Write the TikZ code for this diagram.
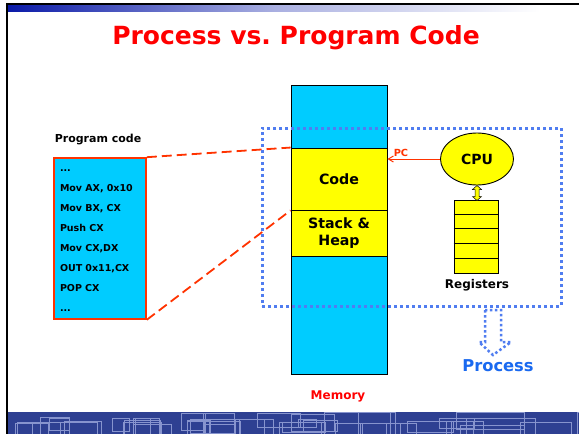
\documentclass[tikz,border=0pt]{standalone}
\usepackage{fontspec}
\setmainfont{DejaVu Sans}
\usetikzlibrary{shapes.geometric,arrows.meta}
\definecolor{memcyan}{HTML}{00CCFF}
\definecolor{boxyellow}{HTML}{FFFF00}
\definecolor{titlered}{HTML}{FF0000}
\definecolor{dashred}{HTML}{FF3300}
\definecolor{dotblue}{RGB}{80,125,240}
\definecolor{procblue}{RGB}{25,105,240}
\definecolor{bandblue}{RGB}{46,64,146}
\definecolor{bandline}{RGB}{135,148,206}
\definecolor{topblue}{RGB}{10,26,168}
\newcommand{\fsz}[1]{\fontsize{#1}{#1}\selectfont}
\tikzset{
  memblock/.style={draw=black, line width=0.9pt, fill=#1, inner sep=0pt, minimum width=96pt},
  lbl/.style={font=\bfseries, inner sep=0pt},
  reddash/.style={draw=dashred, line width=1.8pt, dash pattern=on 10pt off 5pt},
  bluedots/.style={draw=dotblue, line width=3pt, dash pattern=on 3pt off 3pt},
}
\begin{document}
\begin{tikzpicture}[x=1pt,y=-1pt]
\useasboundingbox (0,0) rectangle (579,434);
\fill[white] (0,0) rectangle (579,434);
% frame decoration
\shade[left color=topblue, right color=white, middle color=topblue!35] (8,5) rectangle (540,11);
\fill[black] (6,3) rectangle (579,5);
\fill[black] (6,3) rectangle (8,434);
% bottom band
\begin{scope}
\clip (8,412) rectangle (579,434);
\fill[bandblue] (8,412) rectangle (579,434);
\pgfmathsetseed{21}
\foreach \i in {0,...,40}{
  \pgfmathsetmacro\xa{8+rnd*571}
  \pgfmathsetmacro\wa{15+rnd*55}
  \pgfmathsetmacro\ya{412+rnd*14}
  \pgfmathsetmacro\ha{8+rnd*20}
  \draw[bandline, line width=0.8pt] (\xa,\ya) rectangle ++(\wa,\ha);
}
\end{scope}
% title
\node[lbl, text=titlered, font=\bfseries\fsz{25}] (title) at (296,38) {Process vs.\ Program Code};
% memory
\node[memblock=memcyan, minimum height=289pt] (mem) at (339,229.5) {};
\node[memblock=boxyellow, minimum height=62pt, font=\bfseries\fsz{14.2}] (code) at (339,179) {Code};
\node[memblock=boxyellow, minimum height=46pt, font=\bfseries\fsz{14.2}, align=center] (stack) at (339,233) {Stack \&\\[3pt]Heap};
\node[lbl, text=titlered, font=\bfseries\fsz{12}] (memlbl) at (338,396) {Memory};
% program code
\node[lbl, font=\bfseries\fsz{11}] (proglbl) at (98,140) {Program code};
\node[draw=dashred, line width=1.6pt, fill=memcyan, minimum width=92pt, minimum height=161pt, inner sep=0pt] (prog) at (100,238.5) {};
\node[text width=80pt, align=left, inner sep=0pt, font=\bfseries\fontsize{9.5}{20}\selectfont] (progtxt) at (100,241)
  {...\\ Mov AX, 0x10\\ Mov BX, CX\\ Push CX\\ Mov CX,DX\\ OUT 0x11,CX\\ POP CX\\ ...};
\draw[reddash] (prog.north east) -- (code.north west);
\draw[reddash] (prog.south east) -- (code.south west);
% CPU and registers
\node[ellipse, draw=black, line width=0.9pt, fill=boxyellow, minimum width=73pt, minimum height=52pt, inner sep=0pt, font=\bfseries\fsz{14}] (cpu) at (477,159) {CPU};
\node[draw=black, line width=0.8pt, fill=boxyellow, minimum width=44pt, minimum height=73pt, inner sep=0pt] (reg) at (476,236.5) {};
\foreach \k in {1,...,4}{
  \draw[black, line width=0.8pt] ([yshift=-\k*14.6pt]reg.north west) -- ([yshift=-\k*14.6pt]reg.north east);
}
\node[lbl, font=\bfseries\fsz{12}] (reglbl) at (477,285) {Registers};
\filldraw[fill=boxyellow, draw=black, line width=0.5pt]
  (477,185.5) -- (481.5,189.5) -- (479,189.5) -- (479,196.5) -- (481.5,196.5) -- (477,200.5)
  -- (472.5,196.5) -- (475,196.5) -- (475,189.5) -- (472.5,189.5) -- cycle;
% PC arrow
\draw[draw=dashred, line width=1pt, -{Straight Barb[length=5pt,width=6pt]}] (cpu.west) -- (cpu.west -| code.east);
\node[lbl, text=dashred, font=\bfseries\fsz{9.8}] (pclbl) at (401,153) {PC};
% process box
\node[bluedots, minimum width=299pt, minimum height=178pt, inner sep=0pt] (procbox) at (411.5,217) {};
\draw[draw=dotblue, line width=2.5pt, dash pattern=on 2.5pt off 2.5pt]
  (485,310) -- (485,342) -- (479,342) -- (493,355) -- (511,342) -- (501,342) -- (501,310) -- cycle;
\node[lbl, text=procblue, font=\bfseries\fsz{16.3}] (proclbl) at (498,366) {Process};
\end{tikzpicture}
\end{document}
